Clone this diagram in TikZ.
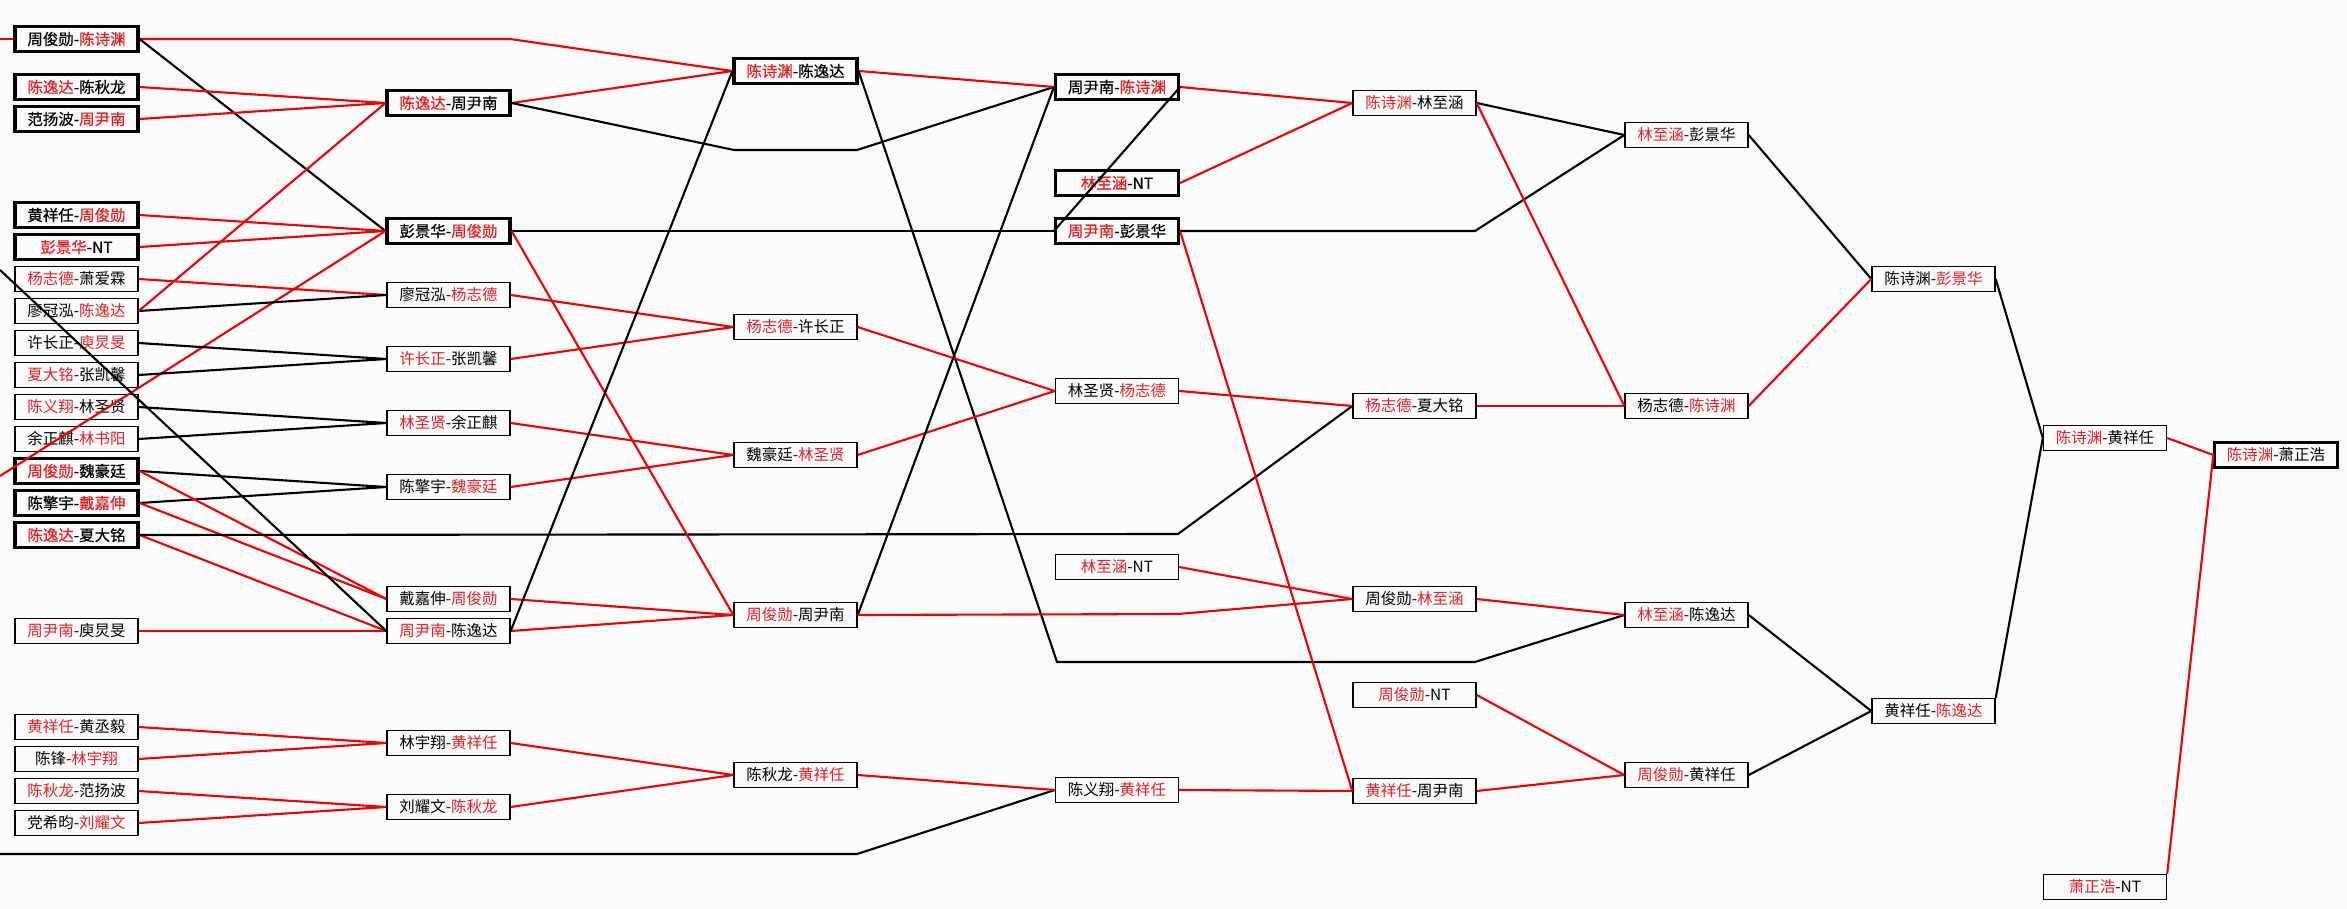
\documentclass[tikz,border=0pt]{standalone}
\usepackage{fontspec}
\setmainfont{Noto Sans CJK SC}
\newfontfamily\heavyfont{Noto Sans CJK SC}[FakeBold=0.5]
\definecolor{winred}{RGB}{232,28,36}
\definecolor{linered}{RGB}{240,0,0}
\definecolor{paper}{RGB}{251,251,251}
\newcommand{\rw}[1]{\textcolor{winred}{#1}}
\tikzset{
  mbox/.style={draw=black, line width=0.8pt, minimum width=2.46cm, minimum height=0.5cm, inner sep=0pt, font=\fontsize{8.8pt}{10pt}\selectfont},
  mboxb/.style={mbox, line width=1.8pt, font=\fontsize{8.8pt}{10pt}\selectfont\heavyfont},
  rline/.style={draw=linered, line width=1.2pt},
  bline/.style={draw=black, line width=1.2pt}
}

\begin{document}
\begin{tikzpicture}[x=0.02cm, y=-0.02cm]
\fill[paper] (0,0) rectangle (2347,909);
\useasboundingbox (0,0) rectangle (2347,909);

% first column
\node[mboxb] (a1) at (76.5,39) {周俊勋-\rw{陈诗渊}};
\node[mboxb] (a2) at (76.5,87) {\rw{陈逸达}-陈秋龙};
\node[mboxb] (a3) at (76.5,119) {范扬波-\rw{周尹南}};
\node[mboxb] (a4) at (76.5,215) {黄祥任-\rw{周俊勋}};
\node[mboxb] (a5) at (76.5,247) {\rw{彭景华}-NT};
\node[mbox] (a6) at (76.5,279) {\rw{杨志德}-萧爱霖};
\node[mbox] (a7) at (76.5,311) {廖冠泓-\rw{陈逸达}};
\node[mbox] (a8) at (76.5,343) {许长正-\rw{庾炅旻}};
\node[mbox] (a9) at (76.5,375) {\rw{夏大铭}-张凯馨};
\node[mbox] (a10) at (76.5,407) {\rw{陈义翔}-林圣贤};
\node[mbox] (a11) at (76.5,439) {余正麒-\rw{林书阳}};
\node[mboxb] (a12) at (76.5,471) {\rw{周俊勋}-魏豪廷};
\node[mboxb] (a13) at (76.5,503) {陈擎宇-\rw{戴嘉伸}};
\node[mboxb] (a14) at (76.5,535) {\rw{陈逸达}-夏大铭};
\node[mbox] (a15) at (76.5,631) {\rw{周尹南}-庾炅旻};
\node[mbox] (a16) at (76.5,727) {\rw{黄祥任}-黄丞毅};
\node[mbox] (a17) at (76.5,759) {陈锋-\rw{林宇翔}};
\node[mbox] (a18) at (76.5,791) {\rw{陈秋龙}-范扬波};
\node[mbox] (a19) at (76.5,823) {党希昀-\rw{刘耀文}};

% second column
\node[mboxb] (b1) at (448.5,103) {\rw{陈逸达}-周尹南};
\node[mboxb] (b2) at (448.5,231) {彭景华-\rw{周俊勋}};
\node[mbox] (b3) at (448.5,295) {廖冠泓-\rw{杨志德}};
\node[mbox] (b4) at (448.5,359) {\rw{许长正}-张凯馨};
\node[mbox] (b5) at (448.5,423) {\rw{林圣贤}-余正麒};
\node[mbox] (b6) at (448.5,487) {陈擎宇-\rw{魏豪廷}};
\node[mbox] (b7) at (448.5,599) {戴嘉伸-\rw{周俊勋}};
\node[mbox] (b8) at (448.5,631) {\rw{周尹南}-陈逸达};
\node[mbox] (b9) at (448.5,743) {林宇翔-\rw{黄祥任}};
\node[mbox] (b10) at (448.5,807) {刘耀文-\rw{陈秋龙}};

% third column
\node[mboxb] (c1) at (795.5,71) {\rw{陈诗渊}-陈逸达};
\node[mbox] (c2) at (795.5,327) {\rw{杨志德}-许长正};
\node[mbox] (c3) at (795.5,455) {魏豪廷-\rw{林圣贤}};
\node[mbox] (c4) at (795.5,615) {\rw{周俊勋}-周尹南};
\node[mbox] (c5) at (795.5,775) {陈秋龙-\rw{黄祥任}};

% fourth column
\node[mboxb] (d1) at (1117,87) {周尹南-\rw{陈诗渊}};
\node[mboxb] (d2) at (1117,183) {\rw{林至涵}-NT};
\node[mboxb] (d3) at (1117,231) {\rw{周尹南}-彭景华};
\node[mbox] (d4) at (1117,391) {林圣贤-\rw{杨志德}};
\node[mbox] (d5) at (1117,567) {\rw{林至涵}-NT};
\node[mbox] (d6) at (1117,790) {陈义翔-\rw{黄祥任}};

% fifth column
\node[mbox] (e1) at (1414.5,103) {\rw{陈诗渊}-林至涵};
\node[mbox] (e2) at (1414.5,406) {\rw{杨志德}-夏大铭};
\node[mbox] (e3) at (1414.5,599) {周俊勋-\rw{林至涵}};
\node[mbox] (e4) at (1414.5,695) {\rw{周俊勋}-NT};
\node[mbox] (e5) at (1414.5,791) {\rw{黄祥任}-周尹南};

% sixth column
\node[mbox] (f1) at (1686.5,135) {\rw{林至涵}-彭景华};
\node[mbox] (f2) at (1686.5,406) {杨志德-\rw{陈诗渊}};
\node[mbox] (f3) at (1686.5,615) {\rw{林至涵}-陈逸达};
\node[mbox] (f4) at (1686.5,775) {\rw{周俊勋}-黄祥任};

% last columns
\node[mbox] (g1) at (1933.5,279) {陈诗渊-\rw{彭景华}};
\node[mbox] (g2) at (1933.5,711) {黄祥任-\rw{陈逸达}};
\node[mbox] (h1) at (2105,438) {\rw{陈诗渊}-黄祥任};
\node[mbox] (h2) at (2105,887) {\rw{萧正浩}-NT};
\node[mbox, line width=1.4pt] (k1) at (2276,455) {\rw{陈诗渊}-萧正浩};

% free ends and bends
\coordinate (l1) at (0,39);
\coordinate (l2) at (0,270);
\coordinate (l3) at (0,476);
\coordinate (l4) at (0,854);
\coordinate (p1) at (510,39);
\coordinate (p2) at (734,150);
\coordinate (p3) at (857,150);
\coordinate (p4) at (1178,534);
\coordinate (p5) at (1057,662);
\coordinate (p6) at (1475,662);
\coordinate (p7) at (1178,614);
\coordinate (p8) at (1475,231);
\coordinate (p9) at (857,854);

% first round
\draw[rline] (l1) -- (a1.west);
\draw[rline] (a1.east) -- (p1) -- (c1.west);
\draw[bline] (a1.east) -- (b2.west);
\draw[rline] (a2.east) -- (b1.west);
\draw[rline] (a3.east) -- (b1.west);
\draw[rline] (a4.east) -- (b2.west);
\draw[rline] (a5.east) -- (b2.west);
\draw[rline] (l3) -- (b2.west);
\draw[rline] (a6.east) -- (b3.west);
\draw[bline] (a7.east) -- (b3.west);
\draw[rline] (a7.east) -- (b1.west);
\draw[bline] (a8.east) -- (b4.west);
\draw[bline] (a9.east) -- (b4.west);
\draw[bline] (a10.east) -- (b5.west);
\draw[bline] (a11.east) -- (b5.west);
\draw[bline] (a12.east) -- (b6.west);
\draw[bline] (a13.east) -- (b6.west);
\draw[rline] (a12.east) -- (b7.west);
\draw[rline] (a13.east) -- (b7.west);
\draw[rline] (a14.east) -- (b8.west);
\draw[bline] (a14.east) -- (p4) -- (e2.west);
\draw[rline] (a15.east) -- (b8.west);
\draw[bline] (l2) -- (b8.west);
\draw[rline] (a16.east) -- (b9.west);
\draw[rline] (a17.east) -- (b9.west);
\draw[rline] (a18.east) -- (b10.west);
\draw[rline] (a19.east) -- (b10.west);
\draw[bline] (l4) -- (p9) -- (d6.west);

% second round
\draw[rline] (b1.east) -- (c1.west);
\draw[bline] (b1.east) -- (p2) -- (p3) -- (d1.west);
\draw[bline] (b2.east) -- (d3.west);
\draw[rline] (b2.east) -- (c4.west);
\draw[rline] (b3.east) -- (c2.west);
\draw[rline] (b4.east) -- (c2.west);
\draw[rline] (b5.east) -- (c3.west);
\draw[rline] (b6.east) -- (c3.west);
\draw[rline] (b7.east) -- (c4.west);
\draw[rline] (b8.east) -- (c4.west);
\draw[bline] (b8.east) -- (c1.west);
\draw[rline] (b9.east) -- (c5.west);
\draw[rline] (b10.east) -- (c5.west);

% third round
\draw[rline] (c1.east) -- (d1.west);
\draw[bline] (c1.east) -- (p5) -- (p6) -- (f3.west);
\draw[rline] (c2.east) -- (d4.west);
\draw[rline] (c3.east) -- (d4.west);
\draw[bline] (c4.east) -- (d1.west);
\draw[rline] (c4.east) -- (p7) -- (e3.west);
\draw[rline] (c5.east) -- (d6.west);

% fourth round
\draw[rline] (d1.east) -- (e1.west);
\draw[rline] (d2.east) -- (e1.west);
\draw[bline] (d1.east) -- (d3.west);
\draw[bline] (d3.east) -- (p8) -- (f1.west);
\draw[rline] (d3.east) -- (e5.west);
\draw[rline] (d4.east) -- (e2.west);
\draw[rline] (d5.east) -- (e3.west);
\draw[rline] (d6.east) -- (e5.west);

% fifth round
\draw[bline] (e1.east) -- (f1.west);
\draw[rline] (e1.east) -- (f2.west);
\draw[rline] (e2.east) -- (f2.west);
\draw[rline] (e3.east) -- (f3.west);
\draw[rline] (e4.east) -- (f4.west);
\draw[rline] (e5.east) -- (f4.west);

% final rounds
\draw[bline] (f1.east) -- (g1.west);
\draw[rline] (f2.east) -- (g1.west);
\draw[bline] (f3.east) -- (g2.west);
\draw[bline] (f4.east) -- (g2.west);
\draw[bline] (g1.east) -- (h1.west);
\draw[bline] (g2.north east) -- (h1.west);
\draw[rline] (h1.east) -- (k1.west);
\draw[rline] (h2.north east) -- (k1.west);
\end{tikzpicture}
\end{document}
